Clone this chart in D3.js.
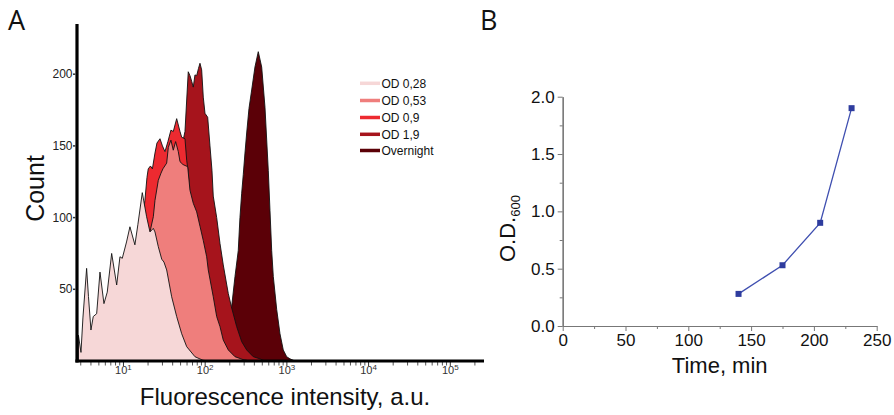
<!DOCTYPE html>
<html><head><meta charset="utf-8">
<script src="https://cdn.jsdelivr.net/npm/d3@7"></script>
<style>body{margin:0;background:#fff} svg{display:block}</style>
</head><body>
<svg id="c" width="894" height="415"></svg>
<script>
// ---------- Panel A data: [fluorescence intensity (a.u.), count] ----------
const seriesNames  = ["OD 0,28", "OD 0,53", "OD 0,9", "OD 1,9", "Overnight"];
const seriesColors = ["#f6d7d7", "#ef7e7c", "#ed2a30", "#a6141c", "#5b0007"];

const od028 = [[2.81,18],[3.02,6],[3.19,30],[3.54,64.6],[3.73,45],[4.00,21.6],[4.27,31],[4.70,33],
  [5.16,62],[5.77,40],[6.33,48],[7.17,75],[8.26,53],[9.06,72.7],[9.67,71.6],[10.9,83],[12.0,93.6],
  [13.8,81],[15.0,95],[17.0,117.4],[19.2,100.6],[21.1,90],[23.2,92.5],[24.3,90],[26.7,79.7],
  [29.4,71],[31.3,69],[33.8,63.5],[38.9,44.8],[44.8,31],[51.6,19],[59.4,10],[75.0,3],[94.0,0.5],[114.5,0]];

const od053 = [[3.38,0],[4.48,8],[6.83,25],[10.4,50],[13.8,70],[18.3,85],[21.1,90],[23.2,100.6],
  [24.3,112],[26.7,126],[28.8,131],[30.4,134],[33.8,138],[35.4,149],[38.1,154],[40.7,147],[43.5,153],
  [46.9,146],[49.2,139],[53.5,137],[61.1,135.5],[65.2,119],[71.5,110],[78.7,104],[86.4,94],[94.8,84],
  [104.3,72.7],[109.1,63.5],[125.6,44.8],[138.3,31],[151.8,24],[166.5,14.6],[191.8,7.7],[231.6,3],
  [290.2,1],[353.5,0]];

const od09 = [[4.48,0],[6.83,15],[10.4,40],[13.8,65],[16.8,92],[18.3,112],[19.4,128],[20.1,134],
  [21.4,136],[22.6,134],[24.3,145],[25.7,152],[28.0,155],[30.0,150],[32.2,146],[35.0,153],[38.1,161],
  [40.7,160],[44.8,169],[49.2,160],[51.6,156],[56.6,155],[59.4,140],[61.6,133],[65.2,115],[75.0,100],
  [86.4,85],[99.5,62],[114.5,40],[131.8,20],[151.8,9],[190.1,2],[231.6,0]];

const od19 = [[6.83,0],[12.0,25],[21.1,75],[32.2,120],[42.7,140],[52.0,150],[56.6,160],[59.4,182],
  [62.1,201.7],[65.2,199],[68.4,195],[71.5,191],[75.0,199.5],[78.7,199],[82.8,204],[86.4,207.6],
  [90.6,203],[94.8,184],[99.5,172.7],[107.3,170],[114.5,150],[121.1,133],[125.6,115],[138.3,100],
  [151.8,82],[166.5,67],[191.8,47],[211.1,37],[242.9,24],[279.8,13.5],[322.1,7.7],[387.9,3],
  [468.8,1.5],[539.5,0]];

const overnight = [[143.5,0],[174.8,12],[211.1,38],[231.6,58.8],[254.1,77],[266.6,100],[279.8,117],
  [292.6,130],[307.0,145],[322.1,159],[343.7,176],[370.8,189],[406.8,205],[446.6,215.7],[491.6,205],
  [539.5,177],[592.0,133],[621.1,105],[651.6,77],[681.7,59],[750.2,36],[823.2,19],[903.3,7.7],
  [994.5,3],[1091,1.5],[1256,0]];

const seriesData = [od028, od053, od09, od19, overnight];

const yTicksA = [50, 100, 150, 200];
const xTicksA = [10, 100, 1000, 10000, 100000];
const xTickSupA = ["1", "2", "3", "4", "5"];

// ---------- Panel B data ----------
const timeMin = [140, 175, 205, 230];
const od600   = [0.28, 0.53, 0.90, 1.90];
const xTicksB = [0, 50, 100, 150, 200, 250];
const xMinorB = [25, 75, 125, 175, 225];
const yTicksB = [0.0, 0.5, 1.0, 1.5, 2.0];
const yMinorB = [0.25, 0.75, 1.25, 1.75];

const svg = d3.select("#c");
const FONT = "'Liberation Sans', Arial, sans-serif";

// ================= Panel A =================
const xA = d3.scaleLog().domain([2.70, 258500]).range([77, 484]);
const yA = d3.scaleLinear().domain([0, 235]).range([361, 24]);

const area = d3.area()
  .x(d => xA(d[0])).y0(yA(0)).y1(d => yA(d[1]));

const gA = svg.append("g");
// draw back to front: Overnight first, OD 0,28 last
for (let i = seriesData.length - 1; i >= 0; i--) {
  gA.append("path")
    .datum(seriesData[i])
    .attr("d", area)
    .attr("fill", seriesColors[i])
    .attr("stroke", "#111")
    .attr("stroke-width", 0.9)
    .attr("stroke-linejoin", "round");
}

// minor log ticks
const minorA = [];
for (let e = 0; e <= 5; e++) for (let m = 2; m <= 9; m++) {
  const v = m * Math.pow(10, e);
  if (v > xA.domain()[0] && v < xA.domain()[1]) minorA.push(v);
}
gA.selectAll(".mt").data(minorA).enter().append("line")
  .attr("x1", d => xA(d)).attr("x2", d => xA(d))
  .attr("y1", 362).attr("y2", 365.5)
  .attr("stroke", "#555").attr("stroke-width", 1);
gA.selectAll(".Mt").data(xTicksA).enter().append("line")
  .attr("x1", d => xA(d)).attr("x2", d => xA(d))
  .attr("y1", 362).attr("y2", 366)
  .attr("stroke", "#333").attr("stroke-width", 1);

// axes lines (thick)
gA.append("line").attr("x1", 77).attr("x2", 77).attr("y1", yA(235)).attr("y2", yA(0) + 1.5)
  .attr("stroke", "#000").attr("stroke-width", 3.2);
gA.append("line").attr("x1", 75.4).attr("x2", xA.range()[1]).attr("y1", yA(0)).attr("y2", yA(0))
  .attr("stroke", "#000").attr("stroke-width", 3.2);

// y ticks
gA.selectAll(".yt").data(yTicksA).enter().append("line")
  .attr("x1", 73).attr("x2", 75.4).attr("y1", d => yA(d)).attr("y2", d => yA(d))
  .attr("stroke", "#333").attr("stroke-width", 1.5);
gA.selectAll(".yl").data(yTicksA).enter().append("text")
  .attr("x", 72.5).attr("y", d => yA(d)).attr("dy", "0.35em")
  .attr("text-anchor", "end").attr("font-family", FONT).attr("font-size", 12)
  .attr("fill", "#222").text(d => d);

// x tick labels 10^n
const xl = gA.selectAll(".xl").data(xTicksA).enter().append("text")
  .attr("x", d => xA(d)).attr("y", 374)
  .attr("text-anchor", "middle").attr("font-family", FONT).attr("font-size", 11)
  .attr("fill", "#333");
xl.append("tspan").text("10");
xl.append("tspan").attr("dy", -4).attr("font-size", 8).text((d, i) => xTickSupA[i]);

// axis titles
svg.append("text").attr("transform", "translate(43.5,188.5) rotate(-90)")
  .attr("text-anchor", "middle").attr("font-family", FONT).attr("font-size", 25)
  .attr("fill", "#111").text("Count");
svg.append("text").attr("x", 285).attr("y", 405)
  .attr("text-anchor", "middle").attr("font-family", FONT).attr("font-size", 24)
  .attr("fill", "#111").text("Fluorescence intensity, a.u.");

// legend
const legY = [83.3, 100.5, 117.5, 134.3, 150.5];
const lg = svg.append("g");
seriesNames.forEach((n, i) => {
  lg.append("line").attr("x1", 360).attr("x2", 380).attr("y1", legY[i]).attr("y2", legY[i])
    .attr("stroke", seriesColors[i]).attr("stroke-width", 3.5);
  lg.append("text").attr("x", 381.5).attr("y", legY[i]).attr("dy", "0.35em")
    .attr("font-family", FONT).attr("font-size", 12).attr("fill", "#111").text(n);
});

// panel letters
svg.append("text").attr("x", 8).attr("y", 30).attr("font-family", "'Open Sans', sans-serif")
  .attr("font-size", 27).attr("fill", "#111").text("A");
svg.append("text").attr("x", 480).attr("y", 30).attr("font-family", "'Open Sans', sans-serif")
  .attr("font-size", 27).attr("fill", "#111").text("B");

// ================= Panel B =================
const xB = d3.scaleLinear().domain([0, 250]).range([562.7, 876.7]);
const yB = d3.scaleLinear().domain([0, 2]).range([326, 96.7]);
const gB = svg.append("g");
const AX = "#777";

const axX = gB.append("g").attr("transform", `translate(0,${yB(0)})`)
  .call(d3.axisBottom(xB).tickValues(xTicksB).tickSize(5).tickSizeOuter(0).tickPadding(3).tickFormat(d3.format("d")));
const axXm = gB.append("g").attr("transform", `translate(0,${yB(0)})`)
  .call(d3.axisBottom(xB).tickValues(xMinorB).tickSize(3).tickSizeOuter(0).tickFormat(""));
const axY = gB.append("g").attr("transform", `translate(${xB(0)},0)`)
  .call(d3.axisLeft(yB).tickValues(yTicksB).tickSize(5).tickSizeOuter(0).tickPadding(3).tickFormat(d3.format(".1f")));
const axYm = gB.append("g").attr("transform", `translate(${xB(0)},0)`)
  .call(d3.axisLeft(yB).tickValues(yMinorB).tickSize(3).tickSizeOuter(0).tickFormat(""));
[axX, axXm, axY, axYm].forEach(a => {
  a.select(".domain").attr("stroke", AX).attr("stroke-width", 1.2);
  a.selectAll(".tick line").attr("stroke", AX).attr("stroke-width", 1);
  a.selectAll("text").attr("font-family", FONT).attr("font-size", 17).attr("fill", "#111");
});

const ptsB = timeMin.map((t, i) => [t, od600[i]]);
gB.append("path").datum(ptsB)
  .attr("d", d3.line().x(d => xB(d[0])).y(d => yB(d[1])))
  .attr("fill", "none").attr("stroke", "#3f4fb0").attr("stroke-width", 1.3);
gB.selectAll(".pt").data(ptsB).enter().append("rect")
  .attr("x", d => xB(d[0]) - 3).attr("y", d => yB(d[1]) - 3)
  .attr("width", 6).attr("height", 6).attr("fill", "#2e3c9e");

svg.append("text").attr("x", (xB(0) + xB(250)) / 2).attr("y", 373)
  .attr("text-anchor", "middle").attr("font-family", FONT).attr("font-size", 22)
  .attr("fill", "#111").text("Time, min");
const yt = svg.append("text").attr("transform", "translate(515,262) rotate(-90)")
  .attr("text-anchor", "start").attr("font-family", FONT).attr("font-size", 22)
  .attr("fill", "#111");
yt.append("tspan").text("O.D.");
yt.append("tspan").attr("font-size", 13).attr("dy", 5).text("600");
</script>
</body></html>
